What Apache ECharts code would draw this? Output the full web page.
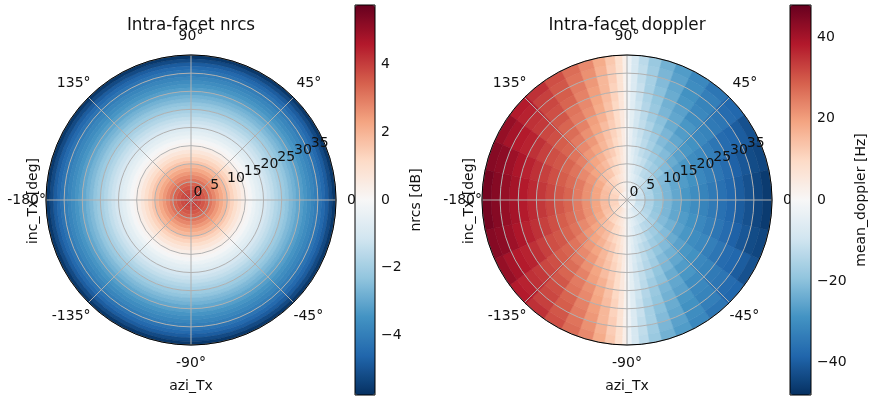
<!DOCTYPE html>
<html>
<head>
<meta charset="utf-8">
<script src="https://cdn.jsdelivr.net/npm/echarts@6/dist/echarts.min.js"></script>
<style>
  html, body { margin: 0; background: #fff; }
  #chart { width: 871px; height: 398px; }
</style>
</head>
<body>
<div id="chart"></div>
<script>
// nrcs [dB] per ring of incidence (1 deg rings, centres 0.5 ... 39.5)
const nrcsIncStep = 1
const nrcsByInc = [
  4.0, 3.9, 3.8, 3.6, 3.4, 3.1, 2.8, 2.5, 2.2, 1.9,
  1.6, 1.3, 1.0, 0.7, 0.4, 0.15, -0.1, -0.35, -0.6, -0.8,
  -1.0, -1.25, -1.45, -1.7, -1.9, -2.1, -2.3, -2.55, -2.75, -3.0,
  -3.2, -3.4, -3.6, -3.8, -4.0, -4.25, -4.5, -4.8, -5.2, -5.6,
]

// mean doppler [Hz], upper-left quadrant
// rows: inc bands of 2.5 deg (0-2.5 ... 37.5-40)
// cols: azi cells between these edges (finer near the 90 deg line)
const dopIncStep = 2.5
const dopAziEdges = [90, 92, 95, 99, 104, 110, 117, 125, 134, 144, 156, 168, 180]
const dopplerQuadrant = [
  [0, 0, 1, 1, 1, 2, 3, 3, 4, 4, 5, 5],
  [0, 1, 2, 3, 4, 5, 7, 8, 9, 10, 11, 11],
  [0, 2, 3, 5, 6, 8, 10, 11, 13, 14, 15, 15],
  [1, 2, 4, 6, 9, 10, 13, 14, 16, 18, 19, 19],
  [1, 3, 5, 8, 10, 12, 15, 17, 19, 21, 22, 22],
  [1, 3, 6, 9, 12, 14, 17, 19, 21, 23, 25, 25],
  [1, 4, 7, 10, 13, 16, 19, 21, 24, 26, 27, 28],
  [1, 4, 8, 11, 14, 17, 21, 23, 26, 28, 29, 30],
  [1, 5, 9, 12, 15, 19, 22, 25, 28, 30, 31, 32],
  [2, 5, 9, 13, 17, 20, 24, 27, 29, 31, 33, 34],
  [2, 6, 10, 14, 18, 22, 25, 28, 31, 33, 35, 36],
  [2, 6, 11, 15, 19, 23, 26, 30, 32, 35, 37, 38],
  [2, 7, 11, 16, 20, 24, 28, 31, 34, 37, 39, 40],
  [2, 7, 12, 16, 21, 25, 29, 32, 35, 38, 41, 42],
  [3, 8, 12, 17, 22, 26, 30, 33, 37, 40, 43, 44],
  [3, 8, 13, 18, 23, 27, 31, 35, 38, 42, 44, 46],
]

const nrcsLimit = 5.76
const dopplerLimit = 47.9
const nrcsTicks = [-4, -2, 0, 2, 4]
const dopplerTicks = [-40, -20, 0, 20, 40]
const incMax = 40

const rdbuR = ['#053061', '#2166ac', '#4393c3', '#92c5de', '#d1e5f0', '#f7f7f7',
  '#fddbc7', '#f4a582', '#d6604d', '#b2182b', '#67001f']

const FONT = "DejaVu Sans"
const TXT = "#111"

// cells: [rMid, aMid, value, r0, r1, a0, a1]
const nrcsCells = nrcsByInc.map((v, i) => {
  const r0 = i * nrcsIncStep
  return [r0 + nrcsIncStep / 2, 0, v, r0, r0 + nrcsIncStep, -180, 180]
})

const dopplerCells = []
dopplerQuadrant.forEach((row, i) => {
  const r0 = i * dopIncStep, r1 = r0 + dopIncStep, rm = (r0 + r1) / 2
  row.forEach((v, j) => {
    const a0 = dopAziEdges[j], a1 = dopAziEdges[j + 1], am = (a0 + a1) / 2
    // mirror to the other quadrants, sign flips across the 90/-90 line
    dopplerCells.push([rm, am, v, r0, r1, a0, a1])
    dopplerCells.push([rm, 180 - am, -v, r0, r1, 180 - a1, 180 - a0])
    dopplerCells.push([rm, -am, v, r0, r1, -a1, -a0])
    dopplerCells.push([rm, am - 180, -v, r0, r1, a0 - 180, a1 - 180])
  })
})

function cellSector(params, api) {
  const cs = params.coordSys
  const rad = (r) => {
    const p = api.coord([r, 0])
    return Math.hypot(p[0] - cs.cx, p[1] - cs.cy)
  }
  const ang = (a) => {
    const p = api.coord([incMax, a])
    return Math.atan2(p[1] - cs.cy, p[0] - cs.cx)
  }
  let start = 0, end = Math.PI * 2
  if (api.value(6) - api.value(5) < 360) {
    start = ang(api.value(6))
    end = ang(api.value(5))
    if (end < start) end += Math.PI * 2
  }
  const color = api.visual("color")
  return {
    type: "sector",
    shape: { cx: cs.cx, cy: cs.cy, r0: rad(api.value(3)), r: rad(api.value(4)),
      startAngle: start, endAngle: end, clockwise: true },
    style: { fill: color, stroke: color, lineWidth: 0.6 },
  }
}

// per-label offsets so the angle labels sit like matplotlib's
const angleKey = { "0": "e", "45": "ne", "90": "n", "135": "nw", "-180": "w",
  "-135": "sw", "-90": "s", "-45": "se" }
const labelBase = { fontFamily: FONT, fontSize: 14, color: TXT }
const angleRich = {
  e: { ...labelBase, padding: [0, 0, 0, 14] },
  ne: { ...labelBase, padding: [0, 0, 9, 5] },
  n: { ...labelBase, padding: [0, 0, 15, 0] },
  nw: { ...labelBase, padding: [0, 0, 9, 0] },
  w: { ...labelBase, padding: [0, 3, 0, 0] },
  sw: { ...labelBase, padding: [9, 0, 0, 0] },
  s: { ...labelBase, padding: [14, 0, 0, 0] },
  se: { ...labelBase, padding: [9, 0, 0, 2] },
}

const centers = [[191, 200], [627, 200]]
const plotR = 145

function mainAngleAxis(polarIndex) {
  return {
    polarIndex, type: "value", min: -180, max: 180, interval: 45,
    startAngle: 180, clockwise: false, z: 6,
    axisLine: { lineStyle: { color: "#000", width: 1 } },
    axisTick: { show: false },
    splitLine: { lineStyle: { color: "#b0b0b0", width: 1 } },
    axisLabel: {
      margin: -3,
      formatter: (v) => (v === 180 ? "" : "{" + angleKey[v] + "|" + v + "°}"),
      rich: angleRich,
    },
  }
}

function mainRadiusAxis(polarIndex) {
  return {
    polarIndex, type: "value", min: 0, max: incMax, interval: 5, z: 5,
    axisLine: { show: false }, axisTick: { show: false }, axisLabel: { show: false },
    splitLine: { lineStyle: { color: "#b0b0b0", width: 1 } },
  }
}

// second polar only carries the radial labels along 22.5 deg
function labelAngleAxis(polarIndex) {
  return { polarIndex, type: "value", min: 0, max: 360, startAngle: 22.5, show: false }
}
function labelRadiusAxis(polarIndex) {
  return {
    polarIndex, type: "value", min: 0, max: incMax, interval: 5, z: 7,
    axisLine: { show: false }, axisTick: { show: false }, splitLine: { show: false },
    axisLabel: {
      showMaxLabel: false, margin: 1, align: "left", verticalAlign: "bottom",
      padding: [0, 0, 0, 3], fontFamily: FONT, fontSize: 14, color: TXT,
      formatter: (v) => (v >= incMax ? "" : String(v)),
    },
  }
}

const minus = (v) => (v < 0 ? "\u2212" + Math.abs(v) : String(v))

function colorbarAxis(gridIndex, limit, ticks, name, gap) {
  return {
    gridIndex, type: "value", position: "right", min: -limit, max: limit,
    axisLine: { show: false },
    splitLine: { show: false },
    axisTick: { show: true, customValues: ticks, length: 4.5, lineStyle: { color: "#000" } },
    axisLabel: { customValues: ticks, margin: 6, formatter: minus,
      fontFamily: FONT, fontSize: 14, color: TXT },
    name, nameLocation: "middle", nameRotate: 90, nameGap: gap,
    nameTextStyle: { fontFamily: FONT, fontSize: 14, color: TXT },
  }
}

function text(x, y, str, size, rotate) {
  return {
    type: "text", x, y, rotation: rotate ? Math.PI / 2 : 0, z: 20,
    style: { text: str, fontFamily: FONT, fontSize: size, fill: TXT,
      align: "center", verticalAlign: "middle" },
  }
}

const chart = echarts.init(document.getElementById("chart"))
chart.setOption({
  animation: false,
  polar: [
    { center: centers[0], radius: plotR },
    { center: centers[0], radius: plotR },
    { center: centers[1], radius: plotR },
    { center: centers[1], radius: plotR },
  ],
  angleAxis: [mainAngleAxis(0), labelAngleAxis(1), mainAngleAxis(2), labelAngleAxis(3)],
  radiusAxis: [mainRadiusAxis(0), labelRadiusAxis(1), mainRadiusAxis(2), labelRadiusAxis(3)],
  grid: [
    { left: 355, top: 5, width: 20, height: 390, show: true, borderColor: "#000",
      borderWidth: 1, backgroundColor: "transparent", z: 10 },
    { left: 790, top: 5, width: 21, height: 390, show: true, borderColor: "#000",
      borderWidth: 1, backgroundColor: "transparent", z: 10 },
  ],
  xAxis: [
    { gridIndex: 0, type: "value", show: false },
    { gridIndex: 1, type: "value", show: false },
  ],
  yAxis: [
    colorbarAxis(0, nrcsLimit, nrcsTicks, "nrcs [dB]", 34),
    colorbarAxis(1, dopplerLimit, dopplerTicks, "mean_doppler [Hz]", 43),
  ],
  visualMap: [
    { type: "continuous", seriesIndex: 0, dimension: 2, min: -nrcsLimit, max: nrcsLimit,
      inRange: { color: rdbuR }, calculable: false, hoverLink: false, orient: "vertical",
      left: 355, top: 5, itemWidth: 20, itemHeight: 390, padding: 0, z: 8 },
    { type: "continuous", seriesIndex: 1, dimension: 2, min: -dopplerLimit, max: dopplerLimit,
      inRange: { color: rdbuR }, calculable: false, hoverLink: false, orient: "vertical",
      left: 790, top: 5, itemWidth: 21, itemHeight: 390, padding: 0, z: 8 },
  ],
  graphic: [
    text(191, 26, "Intra-facet nrcs", 16.8),
    text(627, 26, "Intra-facet doppler", 16.8),
    text(191, 386, "azi_Tx", 14),
    text(627, 386, "azi_Tx", 14),
    text(33, 201, "inc_Tx [deg]", 14, true),
    text(469, 201, "inc_Tx [deg]", 14, true),
  ],
  series: [
    { type: "custom", name: "nrcs", coordinateSystem: "polar", polarIndex: 0, z: 1,
      encode: { radius: 0, angle: 1 }, renderItem: cellSector, data: nrcsCells, silent: true },
    { type: "custom", name: "doppler", coordinateSystem: "polar", polarIndex: 2, z: 1,
      encode: { radius: 0, angle: 1 }, renderItem: cellSector, data: dopplerCells, silent: true },
  ],
})
</script>
</body>
</html>
